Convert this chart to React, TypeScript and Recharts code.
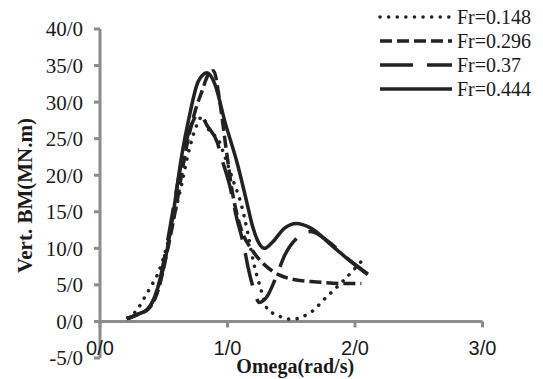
import { LineChart, Line, XAxis, YAxis, ReferenceLine, Legend } from 'recharts';

// Omega (rad/s) and vertical bending moment (MN.m) for each Froude number
const omega148 = [0.22, 0.3, 0.34, 0.4, 0.45, 0.52, 0.58, 0.64, 0.69, 0.76, 0.8, 0.86, 0.93, 0.97, 1.05, 1.1, 1.16, 1.2, 1.26, 1.32, 1.39, 1.45, 1.52, 1.58, 1.65, 1.78, 1.91, 2.08];
const bm148 = [0.5, 1.8, 3.0, 4.8, 6.4, 10, 14.3, 18.7, 22.8, 26.9, 28, 26, 24.8, 23, 19, 16.5, 12, 8.4, 4.5, 1.5, 0.9, 0.4, 0.3, 0.6, 1.2, 3.4, 5.6, 8.8];

const omega296 = [0.21, 0.3, 0.38, 0.46, 0.52, 0.6, 0.68, 0.75, 0.8, 0.85, 0.89, 0.94, 0.99, 1.04, 1.1, 1.2, 1.3, 1.4, 1.5, 1.7, 1.9, 2.05];
const bm296 = [0.4, 1.0, 1.7, 4.5, 9, 16, 24, 29, 31.5, 33.8, 34.3, 30, 23.5, 17.5, 13, 9.6, 7.6, 6.4, 5.8, 5.4, 5.2, 5.2];

const omega37 = [0.22, 0.3, 0.38, 0.46, 0.53, 0.6, 0.66, 0.72, 0.78, 0.84, 0.92, 0.96, 1.02, 1.07, 1.13, 1.16, 1.2, 1.25, 1.31, 1.37, 1.45, 1.55, 1.65, 1.8, 1.95, 2.1];
const bm37 = [0.4, 1.0, 1.8, 5, 11, 18, 23.5, 27, 28.5, 26.8, 24.5, 22, 18.4, 14.3, 10.2, 7.5, 4.7, 2.6, 3.4, 5.6, 9.1, 11.5, 12.3, 10.8, 8.5, 6.5];

const omega444 = [0.21, 0.3, 0.37, 0.42, 0.46, 0.5, 0.57, 0.64, 0.7, 0.77, 0.84, 0.9, 0.98, 1.08, 1.15, 1.2, 1.25, 1.29, 1.35, 1.45, 1.54, 1.65, 1.83, 1.98, 2.1];
const bm444 = [0.4, 1.0, 1.6, 3, 5, 7.5, 14.3, 22.6, 28, 32.8, 34.0, 32.5, 27.3, 21.4, 16.4, 12.8, 10.6, 10.0, 10.8, 12.8, 13.4, 12.8, 10.2, 8.0, 6.4];

const xTicks = [0, 1, 2, 3];
const yTicks = [-5, 0, 5, 10, 15, 20, 25, 30, 35, 40];

const zip = (xs: number[], ys: number[]) => xs.map((w, i) => ({ w, bm: ys[i] }));

const series = [
  { name: 'Fr=0.148', data: zip(omega148, bm148), dash: '0.1 8.5', cap: 'round' as const },
  { name: 'Fr=0.296', data: zip(omega296, bm296), dash: '12 5', cap: 'butt' as const },
  { name: 'Fr=0.37', data: zip(omega37, bm37), dash: '33 14', cap: 'butt' as const },
  { name: 'Fr=0.444', data: zip(omega444, bm444), dash: undefined, cap: 'butt' as const },
];

const W = 543;
const H = 379;
const TOP = 29;
const XAXIS_H = 21;
const PLOT_H = H - TOP - XAXIS_H;
const ZERO_Y = TOP + (PLOT_H * 40) / 45;

const INK = '#222222';
const AXIS = '#8c8c8c';
const serif = '"Liberation Serif", "Times New Roman", serif';

const XTick = ({ x, payload }: any) => (
  <g>
    <line x1={x} x2={x} y1={ZERO_Y} y2={ZERO_Y + 6} stroke={AXIS} strokeWidth={3} />
    <text x={x} y={ZERO_Y + 34} textAnchor="middle" fontFamily='"Liberation Sans", Arial, sans-serif' fontSize={20} fill="#1a1a1a">
      {`${payload.value}/0`}
    </text>
  </g>
);

const YTitle = ({ viewBox }: any) => {
  const cx = viewBox.x + 25;
  const cy = viewBox.y + viewBox.height / 2 + 2;
  return (
    <text
      x={cx}
      y={cy}
      transform={`rotate(-90, ${cx}, ${cy})`}
      textAnchor="middle"
      dominantBaseline="central"
      fontFamily={serif}
      fontWeight="bold"
      fontSize={21}
      fill="#1a1a1a"
    >
      Vert. BM(MN.m)
    </text>
  );
};

const LegendBox = () => (
  <svg width={165} height={100}>
    {series.map((s, i) => {
      const y = 17 + i * 24;
      return (
        <g key={s.name}>
          <line x1={2} x2={74} y1={y} y2={y} stroke={INK} strokeWidth={3.5} strokeDasharray={s.dash} strokeLinecap={s.cap} />
          <text x={79} y={y + 7} fontFamily={serif} fontSize={20} fill="#1a1a1a">
            {s.name}
          </text>
        </g>
      );
    })}
  </svg>
);

export default function App() {
  return (
    <div style={{ position: 'absolute', left: 0, top: 0, background: '#fff' }}>
      <LineChart width={W} height={H} margin={{ top: TOP, right: 60.5, bottom: 0, left: 0 }}>
        <XAxis
          type="number"
          dataKey="w"
          domain={[0, 3]}
          ticks={xTicks}
          height={XAXIS_H}
          axisLine={false}
          tickLine={false}
          tick={<XTick />}
          interval={0}
          allowDataOverflow
          label={{ value: 'Omega(rad/s)', position: 'insideBottom', offset: 6, dx: 4, fontFamily: serif, fontWeight: 'bold', fontSize: 20, fill: '#1a1a1a' }}
        />
        <YAxis
          type="number"
          domain={[-5, 40]}
          ticks={yTicks}
          width={100}
          interval={0}
          axisLine={{ stroke: AXIS, strokeWidth: 3 }}
          tickLine={{ stroke: AXIS, strokeWidth: 3 }}
          tickSize={6}
          tickMargin={11}
          tickFormatter={(v: number) => `${v}/0`}
          tick={{ fontFamily: serif, fontSize: 21, fill: '#1a1a1a' }}
          label={<YTitle />}
        />
        <ReferenceLine y={0} stroke={AXIS} strokeWidth={3} />
        <Legend
          layout="vertical"
          align="center"
          verticalAlign="middle"
          content={<LegendBox />}
          wrapperStyle={{ top: 0, left: 378, width: 165, height: 100 }}
        />
        {series.map((s) => (
          <Line
            key={s.name}
            name={s.name}
            data={s.data}
            dataKey="bm"
            type="monotone"
            stroke={INK}
            strokeWidth={3.5}
            strokeDasharray={s.dash}
            strokeLinecap={s.cap}
            dot={false}
            activeDot={false}
            isAnimationActive={false}
          />
        ))}
      </LineChart>
    </div>
  );
}
